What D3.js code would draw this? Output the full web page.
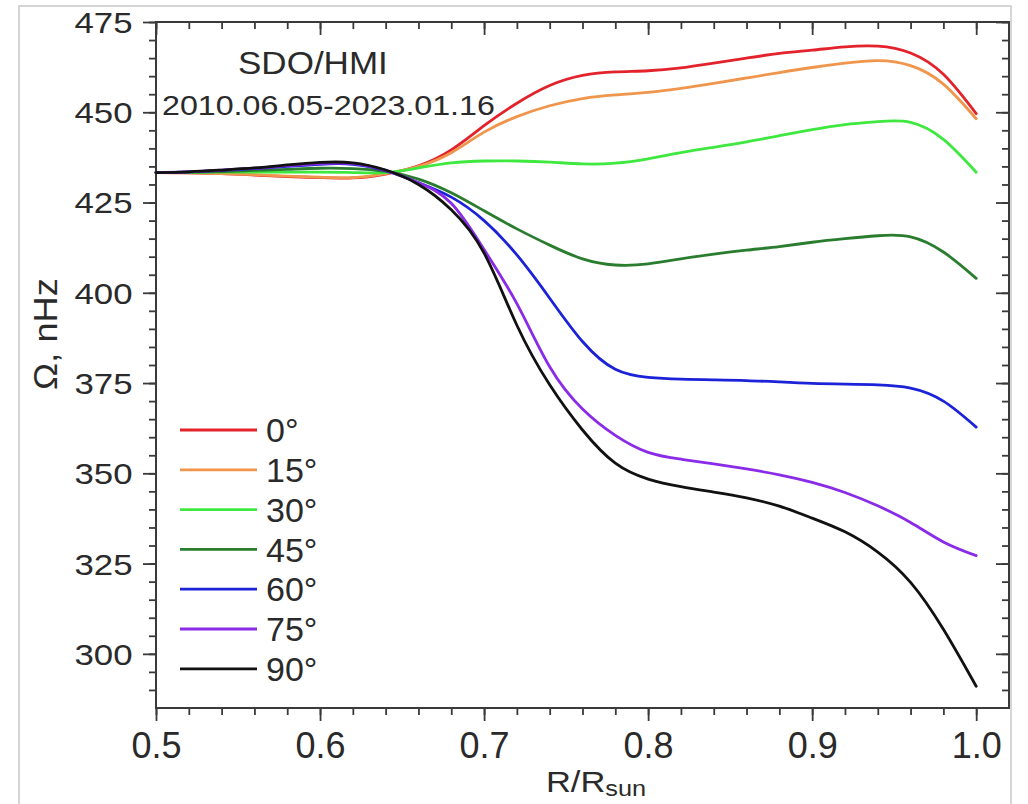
<!DOCTYPE html>
<html>
<head>
<meta charset="utf-8">
<script src="https://cdn.jsdelivr.net/npm/d3@7"></script>
<style>
  html, body { margin: 0; padding: 0; background: #fff; }
  svg { display: block; }
  text { font-family: "Liberation Sans", Arial, sans-serif; fill: #2a2a2a; }
</style>
</head>
<body>
<svg id="chart" width="1028" height="804"></svg>
<script>
// ---- data ----
const radius = [0.50,0.52,0.54,0.56,0.58,0.60,0.62,0.64,0.66,0.68,0.70,0.72,0.74,0.76,0.78,0.80,0.82,0.84,0.86,0.88,0.90,0.92,0.94,0.96,0.98,1.00];
const lat0  = [433.3,433.2,433.0,432.6,432.2,431.9,431.8,432.9,435.2,439.6,446.3,452.5,457.4,460.2,461.2,461.5,462.3,463.6,465.0,466.3,467.2,468.1,468.3,466.4,460.5,449.6];
const lat15 = [433.3,433.2,433.0,432.7,432.3,432.0,431.9,433.0,435.0,438.8,444.5,448.8,451.8,453.8,454.8,455.5,456.6,458.0,459.5,461.0,462.4,463.6,464.3,462.9,457.8,448.2];
const lat30 = [433.3,433.3,433.4,433.4,433.4,433.4,433.3,433.3,434.6,436.0,436.5,436.5,436.2,435.7,435.9,437.1,438.8,440.3,441.8,443.5,445.2,446.6,447.4,447.2,442.5,433.4];
const lat45 = [433.3,433.4,433.6,433.9,434.2,434.5,434.4,433.6,431.5,427.7,422.7,417.7,413.2,409.4,407.7,408.0,409.4,410.7,411.8,412.8,414.0,415.0,415.8,415.5,411.3,404.0];
const lat60 = [433.3,433.5,433.9,434.4,435.0,435.6,435.6,433.8,430.5,426.5,420.0,410.5,398.5,386.5,378.8,376.6,376.1,375.9,375.7,375.3,374.9,374.7,374.5,373.6,370.0,362.8];
const lat75 = [433.3,433.5,434.0,434.5,435.2,435.8,435.8,433.9,430.5,424.8,412.0,397.0,379.5,367.8,360.5,355.8,353.9,352.6,351.2,349.6,347.5,344.7,341.0,336.4,331.0,327.2];
const lat90 = [433.3,433.5,434.0,434.6,435.4,436.1,436.0,434.0,430.0,423.0,411.0,391.0,374.5,362.0,352.8,348.4,346.3,344.8,343.2,340.9,337.6,333.8,328.2,319.8,306.8,291.0];

const seriesNames = ["0°","15°","30°","45°","60°","75°","90°"];
const seriesValues = [lat0, lat15, lat30, lat45, lat60, lat75, lat90];
const seriesColors = ["#e3232b","#f0954c","#3fe83f","#2a7d2f","#1c22d8","#8a2be8","#111111"];

const xTicks = [0.5,0.6,0.7,0.8,0.9,1.0];
const xTickLabels = ["0.5","0.6","0.7","0.8","0.9","1.0"];
const yTicks = [300,325,350,375,400,425,450,475];

const title1 = "SDO/HMI";
const title2 = "2010.06.05-2023.01.16";

// ---- layout ----
const svg = d3.select("#chart");
const L = 156, R = 1009, T = 22, B = 708;
const x = d3.scaleLinear().domain([0.5, 1.02]).range([L, R]);
const y = d3.scaleLinear().domain([285, 475]).range([B, T]);

// outer light border
svg.append("rect").attr("x", 19).attr("y", 6).attr("width", 992).attr("height", 820)
  .attr("fill", "none").attr("stroke", "#c8c8c8").attr("stroke-width", 1.5);

const xMinor = d3.range(25, 51).map(i => +(i * 0.02).toFixed(2));
const yMinor = d3.range(58, 96).map(i => i * 5);

function styleAxis(g) {
  g.select(".domain").remove();
  g.selectAll(".tick line").attr("stroke", "#3a3a3a").attr("stroke-width", 1.8);
}

// bottom
svg.append("g").attr("transform", `translate(0,${B})`)
  .call(d3.axisBottom(x).tickValues(xMinor).tickSize(7).tickFormat(""))
  .call(styleAxis);
const xb = svg.append("g").attr("transform", `translate(0,${B})`)
  .call(d3.axisBottom(x).tickValues(xTicks).tickSize(13).tickPadding(11)
    .tickFormat((d, i) => xTickLabels[i]))
  .call(styleAxis);
xb.selectAll(".tick text").attr("font-size", 36).attr("fill", "#2a2a2a")
  .attr("dy", "0.71em");

// top (inward)
svg.append("g").attr("transform", `translate(0,${T})`)
  .call(d3.axisTop(x).tickValues(xMinor).tickSize(-7).tickFormat(""))
  .call(styleAxis);
svg.append("g").attr("transform", `translate(0,${T})`)
  .call(d3.axisTop(x).tickValues(xTicks).tickSize(-13).tickFormat(""))
  .call(styleAxis);

// left
svg.append("g").attr("transform", `translate(${L},0)`)
  .call(d3.axisLeft(y).tickValues(yMinor).tickSize(7).tickFormat(""))
  .call(styleAxis);
const yl = svg.append("g").attr("transform", `translate(${L},0)`)
  .call(d3.axisLeft(y).tickValues(yTicks).tickSize(13).tickFormat(d3.format("d")))
  .call(styleAxis);
yl.selectAll(".tick text").attr("font-size", 29).attr("fill", "#2a2a2a")
  .attr("x", -23.5 / 1.2).attr("dy", "0.36em").attr("transform", "scale(1.2,1)");

// right (inward)
svg.append("g").attr("transform", `translate(${R},0)`)
  .call(d3.axisRight(y).tickValues(yMinor).tickSize(-7).tickFormat(""))
  .call(styleAxis);
svg.append("g").attr("transform", `translate(${R},0)`)
  .call(d3.axisRight(y).tickValues(yTicks).tickSize(-13).tickFormat(""))
  .call(styleAxis);

// frame
svg.append("rect").attr("x", L).attr("y", T).attr("width", R - L).attr("height", B - T)
  .attr("fill", "none").attr("stroke", "#3a3a3a").attr("stroke-width", 2);

// curves
const line = d3.line().x(d => x(d[0])).y(d => y(d[1])).curve(d3.curveNatural);
const plot = svg.append("g");
seriesValues.forEach((vals, i) => {
  plot.append("path")
    .datum(radius.map((r, j) => [r, vals[j]]))
    .attr("fill", "none")
    .attr("stroke", seriesColors[i])
    .attr("stroke-width", 2.8)
    .attr("stroke-linejoin", "round")
    .attr("stroke-linecap", "round")
    .attr("d", line);
});

// titles inside plot
svg.append("text").attr("transform", "translate(238,74) scale(1.13,1)")
  .attr("font-size", 31).text(title1);
svg.append("text").attr("transform", "translate(162,115) scale(1.15,1)")
  .attr("font-size", 28).text(title2);

// legend
const lg = svg.append("g");
seriesNames.forEach((n, i) => {
  const ly = 430 + i * 39.8;
  lg.append("line").attr("x1", 180).attr("x2", 257).attr("y1", ly).attr("y2", ly)
    .attr("stroke", seriesColors[i]).attr("stroke-width", 2.8);
  lg.append("text").attr("x", 266).attr("y", ly).attr("dy", "0.36em")
    .attr("font-size", 34).text(n);
});

// axis titles
svg.append("text").attr("transform", "translate(57,334) rotate(-90) scale(1.1,1)")
  .attr("text-anchor", "middle").attr("font-size", 33).text("Ω, nHz");

const xt = svg.append("text").attr("transform", "translate(596,792) scale(1.15,1)")
  .attr("text-anchor", "middle").attr("font-size", 30);
xt.append("tspan").text("R/R");
xt.append("tspan").attr("font-size", 22).attr("dy", 4).text("sun");
</script>
</body>
</html>
